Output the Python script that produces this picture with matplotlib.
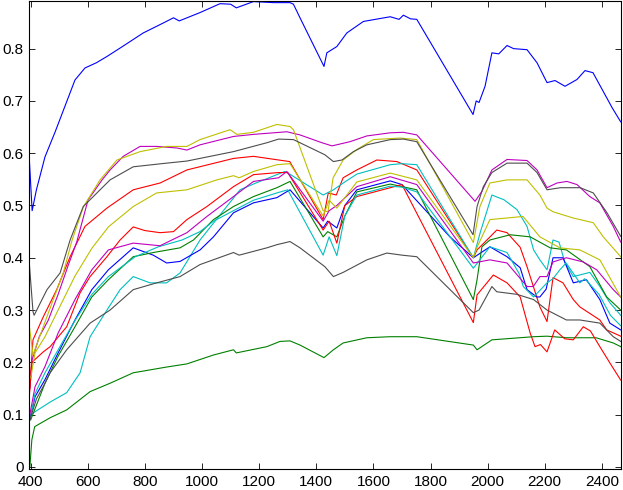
import matplotlib
matplotlib.use("Agg")
import matplotlib.pyplot as plt

# cores no estilo antigo do MATLAB
azul = (0, 0, 1)
verde = (0, 0.5, 0)
vermelho = (1, 0, 0)
ciano = (0, 0.75, 0.75)
magenta = (0.75, 0, 0.75)
amarelo = (0.75, 0.75, 0)
cinza = (0.3, 0.3, 0.3)

# Curvas (comprimento de onda, reflectancia)
b1_x = [395, 405, 420, 450, 485, 520, 555, 590, 630, 667, 724, 794, 864, 900, 920, 993, 1063, 1100, 1120, 1180,
        1250, 1308, 1320, 1343, 1427, 1437, 1472, 1507, 1565, 1659, 1690, 1705, 1730, 1752, 1949, 1960, 1970, 1991,
        2015, 2039, 2068, 2091, 2138, 2173, 2208, 2236, 2271, 2313, 2341, 2369, 2411, 2436, 2466]
b1_y = [0.59, 0.49, 0.53, 0.593, 0.64, 0.69, 0.74, 0.763, 0.773, 0.785, 0.805, 0.83, 0.849, 0.859, 0.853, 0.869,
        0.886, 0.885, 0.878, 0.89, 0.888, 0.888, 0.885, 0.859, 0.766, 0.792, 0.804, 0.83, 0.852, 0.861, 0.856, 0.864,
        0.857, 0.856, 0.674, 0.70, 0.697, 0.728, 0.792, 0.79, 0.806, 0.80, 0.798, 0.773, 0.735, 0.739, 0.728, 0.741,
        0.758, 0.754, 0.712, 0.687, 0.66]

g1_x = [397, 404, 414, 468, 526, 608, 678, 759, 876, 947, 1040, 1110, 1120, 1227, 1273, 1308, 1343, 1427, 1460,
        1494, 1577, 1659, 1752, 1950, 1963, 2015, 2161, 2208, 2276, 2380, 2440, 2466]
g1_y = [0.0, 0.052, 0.077, 0.094, 0.109, 0.144, 0.16, 0.18, 0.191, 0.197, 0.214, 0.224, 0.218, 0.23, 0.24, 0.241,
        0.233, 0.209, 0.224, 0.237, 0.247, 0.249, 0.249, 0.233, 0.224, 0.243, 0.249, 0.25, 0.247, 0.247, 0.237, 0.23]

r1_x = [395, 408, 444, 491, 538, 590, 667, 759, 853, 947, 1110, 1180, 1268, 1307, 1424, 1442, 1470, 1494, 1542,
        1612, 1682, 1752, 1950, 1963, 2032, 2068, 2114, 2138, 2183, 2208, 2229, 2264, 2300, 2323, 2393, 2417, 2466]
r1_y = [0.14, 0.243, 0.287, 0.339, 0.402, 0.46, 0.495, 0.53, 0.543, 0.568, 0.59, 0.594, 0.587, 0.584, 0.473, 0.524,
        0.52, 0.553, 0.568, 0.587, 0.584, 0.568, 0.40, 0.415, 0.453, 0.448, 0.42, 0.383, 0.306, 0.278, 0.362, 0.352,
        0.32, 0.306, 0.281, 0.262, 0.25]

c1_x = [400, 408, 468, 526, 573, 608, 667, 713, 759, 818, 876, 923, 993, 1133, 1180, 1262, 1290, 1310, 1424, 1460,
        1500, 1542, 1659, 1700, 1752, 1950, 1975, 2015, 2057, 2103, 2138, 2161, 2183, 2208, 2229, 2250, 2270, 2300,
        2358, 2393, 2428, 2466]
c1_y = [0.10, 0.103, 0.124, 0.142, 0.18, 0.249, 0.30, 0.339, 0.364, 0.352, 0.352, 0.371, 0.434, 0.53, 0.541, 0.559,
        0.565, 0.559, 0.52, 0.53, 0.545, 0.56, 0.578, 0.58, 0.578, 0.40, 0.45, 0.52, 0.511, 0.492, 0.46, 0.415, 0.396,
        0.377, 0.434, 0.43, 0.392, 0.364, 0.372, 0.345, 0.314, 0.29]

m1_x = [397, 405, 430, 461, 496, 531, 561, 601, 618, 650, 678, 724, 783, 841, 912, 947, 993, 1110, 1180, 1297,
        1343, 1420, 1455, 1518, 1577, 1659, 1705, 1752, 1956, 1980, 2015, 2068, 2138, 2173, 2208, 2243, 2278, 2313,
        2358, 2393, 2440, 2466]
m1_y = [0.15, 0.205, 0.249, 0.28, 0.33, 0.385, 0.43, 0.511, 0.524, 0.549, 0.568, 0.594, 0.613, 0.613, 0.61, 0.606,
        0.616, 0.632, 0.636, 0.641, 0.635, 0.62, 0.614, 0.622, 0.633, 0.639, 0.64, 0.635, 0.508, 0.527, 0.568, 0.588,
        0.586, 0.568, 0.534, 0.543, 0.546, 0.54, 0.517, 0.505, 0.46, 0.43]

y1_x = [395, 408, 444, 479, 514, 545, 585, 643, 702, 783, 876, 947, 993, 1098, 1122, 1180, 1262, 1308, 1320, 1424,
        1441, 1459, 1494, 1542, 1600, 1693, 1752, 1950, 1973, 2008, 2068, 2138, 2183, 2208, 2229, 2300, 2370, 2405,
        2466]
y1_y = [0.27, 0.214, 0.268, 0.32, 0.371, 0.434, 0.498, 0.549, 0.587, 0.603, 0.613, 0.613, 0.626, 0.645, 0.636,
        0.64, 0.655, 0.651, 0.645, 0.49, 0.488, 0.553, 0.587, 0.607, 0.626, 0.629, 0.626, 0.429, 0.498, 0.543, 0.549,
        0.549, 0.52, 0.495, 0.488, 0.476, 0.467, 0.44, 0.402]

k1_x = [395, 408, 412, 457, 503, 538, 584, 678, 759, 876, 947, 1110, 1227, 1268, 1320, 1343, 1430, 1460, 1490, 1530,
        1577, 1659, 1705, 1752, 1949, 1963, 1985, 2015, 2068, 2138, 2173, 2208, 2255, 2324, 2370, 2418, 2466]
k1_y = [0.39, 0.297, 0.29, 0.339, 0.371, 0.434, 0.498, 0.549, 0.574, 0.581, 0.585, 0.603, 0.62, 0.627, 0.626, 0.62,
        0.597, 0.584, 0.587, 0.603, 0.616, 0.626, 0.627, 0.622, 0.444, 0.498, 0.536, 0.563, 0.581, 0.581, 0.563, 0.53,
        0.534, 0.534, 0.524, 0.486, 0.441]

b2_x = [397, 415, 450, 496, 555, 614, 672, 759, 829, 876, 923, 993, 1040, 1110, 1180, 1262, 1308, 1424, 1440, 1472,
        1500, 1542, 1659, 1700, 1868, 1950, 2008, 2068, 2114, 2138, 2172, 2183, 2205, 2229, 2264, 2300, 2346, 2393,
        2428, 2466]
b2_y = [0.09, 0.134, 0.167, 0.218, 0.281, 0.339, 0.377, 0.419, 0.405, 0.39, 0.393, 0.415, 0.44, 0.486, 0.505, 0.515,
        0.53, 0.457, 0.47, 0.457, 0.50, 0.53, 0.547, 0.54, 0.44, 0.40, 0.421, 0.402, 0.381, 0.339, 0.325, 0.325, 0.34,
        0.40, 0.40, 0.352, 0.358, 0.32, 0.275, 0.262]

g2_x = [400, 450, 496, 555, 614, 672, 759, 829, 923, 970, 1040, 1110, 1180, 1262, 1308, 1424, 1440, 1472, 1500, 1542,
        1659, 1752, 1950, 1963, 1980, 2008, 2079, 2149, 2219, 2276, 2358, 2417, 2466]
g2_y = [0.09, 0.16, 0.212, 0.268, 0.325, 0.358, 0.402, 0.41, 0.419, 0.434, 0.473, 0.498, 0.517, 0.534, 0.546, 0.44,
        0.45, 0.44, 0.48, 0.526, 0.541, 0.53, 0.32, 0.358, 0.421, 0.434, 0.444, 0.44, 0.419, 0.415, 0.383, 0.325, 0.30]

r2_x = [395, 404, 444, 468, 526, 573, 608, 667, 713, 759, 800, 853, 900, 947, 1017, 1110, 1180, 1268, 1300, 1424,
        1445, 1472, 1500, 1542, 1659, 1700, 1950, 1963, 2020, 2068, 2114, 2149, 2166, 2185, 2208, 2235, 2270, 2300,
        2335, 2360, 2393, 2428, 2466]
r2_y = [0.134, 0.2, 0.22, 0.23, 0.268, 0.333, 0.364, 0.402, 0.434, 0.459, 0.452, 0.448, 0.45, 0.473, 0.498, 0.536,
        0.559, 0.563, 0.563, 0.453, 0.47, 0.428, 0.50, 0.517, 0.534, 0.54, 0.276, 0.329, 0.367, 0.352, 0.325, 0.256,
        0.23, 0.234, 0.22, 0.262, 0.245, 0.243, 0.268, 0.26, 0.23, 0.199, 0.166]

c2_x = [400, 415, 450, 496, 555, 614, 672, 766, 847, 930, 993, 1040, 1110, 1180, 1268, 1300, 1424, 1445, 1472, 1500,
        1542, 1659, 1700, 1752, 1950, 2008, 2068, 2110, 2125, 2161, 2208, 2229, 2253, 2275, 2323, 2340, 2390, 2430,
        2466]
c2_y = [0.095, 0.14, 0.18, 0.224, 0.28, 0.33, 0.364, 0.402, 0.421, 0.434, 0.45, 0.47, 0.49, 0.51, 0.525, 0.53,
        0.405, 0.44, 0.404, 0.48, 0.52, 0.537, 0.535, 0.526, 0.38, 0.421, 0.41, 0.37, 0.345, 0.325, 0.352, 0.36, 0.377,
        0.39, 0.352, 0.36, 0.33, 0.29, 0.27]

m2_x = [397, 415, 450, 496, 555, 614, 672, 759, 853, 947, 1017, 1110, 1180, 1268, 1297, 1424, 1445, 1472, 1542, 1659,
        1752, 1950, 2008, 2068, 2138, 2160, 2183, 2208, 2229, 2276, 2335, 2382, 2440, 2466]
m2_y = [0.1, 0.153, 0.192, 0.256, 0.32, 0.377, 0.415, 0.428, 0.423, 0.448, 0.479, 0.517, 0.546, 0.553, 0.565, 0.47,
        0.49, 0.50, 0.536, 0.555, 0.54, 0.39, 0.396, 0.39, 0.345, 0.345, 0.364, 0.364, 0.392, 0.40, 0.392, 0.377,
        0.339, 0.325]

y2_x = [400, 415, 450, 496, 555, 614, 672, 759, 841, 947, 1052, 1110, 1130, 1180, 1262, 1308, 1424, 1445, 1472, 1542,
        1659, 1752, 1950, 1963, 2008, 2124, 2183, 2253, 2323, 2393, 2466]
y2_y = [0.17, 0.218, 0.249, 0.30, 0.365, 0.418, 0.459, 0.498, 0.524, 0.53, 0.549, 0.557, 0.553, 0.565, 0.578, 0.58,
        0.48, 0.51, 0.495, 0.545, 0.562, 0.549, 0.40, 0.42, 0.473, 0.479, 0.44, 0.419, 0.415, 0.396, 0.325]

k2_x = [397, 420, 450, 468, 526, 608, 678, 759, 841, 923, 993, 1110, 1130, 1227, 1262, 1308, 1343, 1430, 1460, 1494,
        1577, 1647, 1700, 1752, 1950, 1970, 2015, 2032, 2103, 2161, 2208, 2276, 2323, 2393, 2440, 2466]
k2_y = [0.09, 0.13, 0.16, 0.18, 0.224, 0.275, 0.30, 0.339, 0.352, 0.364, 0.387, 0.41, 0.405, 0.419, 0.425, 0.431,
        0.419, 0.383, 0.364, 0.372, 0.396, 0.409, 0.405, 0.402, 0.295, 0.30, 0.345, 0.335, 0.33, 0.32, 0.30, 0.281,
        0.281, 0.275, 0.249, 0.24]

curvas = [
    (b1_x, b1_y, azul), (g1_x, g1_y, verde), (r1_x, r1_y, vermelho), (c1_x, c1_y, ciano),
    (m1_x, m1_y, magenta), (y1_x, y1_y, amarelo), (k1_x, k1_y, cinza),
    (b2_x, b2_y, azul), (g2_x, g2_y, verde), (r2_x, r2_y, vermelho), (c2_x, c2_y, ciano),
    (m2_x, m2_y, magenta), (y2_x, y2_y, amarelo), (k2_x, k2_y, cinza),
]

xticks = list(range(400, 2401, 200))
yticks = [0, 0.1, 0.2, 0.3, 0.4, 0.5, 0.6, 0.7, 0.8]
ytick_labels = ["0", "0.1", "0.2", "0.3", "0.4", "0.5", "0.6", "0.7", "0.8"]

plt.rcParams["font.family"] = ["Liberation Sans", "DejaVu Sans"]

fig = plt.figure(figsize=(6.23, 4.90), dpi=100)
ax = fig.add_axes([0.047, 0.0429, 0.9493, 0.956])

for xs, ys, cor in curvas:
    ax.plot(xs, ys, color=cor, linewidth=0.8)

ax.set_xlim(395, 2466)
ax.set_ylim(-0.004, 0.892)
ax.set_xticks(xticks)
ax.set_yticks(yticks)
ax.set_yticklabels(ytick_labels)
ax.tick_params(axis="x", direction="in", top=True, length=4.5, width=0.6, labelsize=11, pad=4)
ax.tick_params(axis="y", direction="in", right=True, length=4.5, width=0.6, labelsize=11, pad=4)
for s in ax.spines.values():
    s.set_linewidth(0.8)

fig.savefig("out.png", dpi=100)
